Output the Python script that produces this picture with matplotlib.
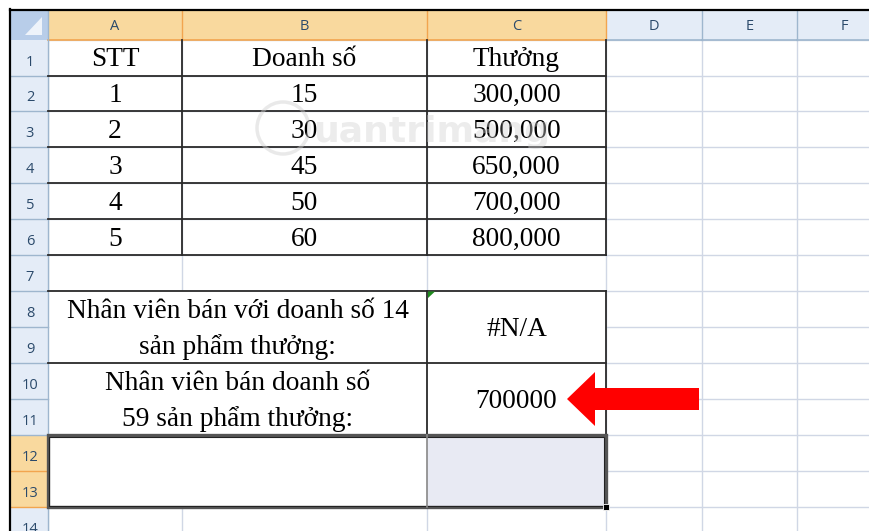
import matplotlib.pyplot as plt
from matplotlib.patches import Rectangle, Circle, FancyArrow, Polygon

# nội dung bảng tính
col_letters = ['A', 'B', 'C', 'D', 'E', 'F']
row_numbers = list(range(1, 15))
headers = ['STT', 'Doanh số', 'Thưởng']
stt = [1, 2, 3, 4, 5]
doanh_so = [15, 30, 45, 50, 60]
thuong = [300000, 500000, 650000, 700000, 800000]
lookup_labels = ['Nhân viên bán với doanh số 14\nsản phẩm thưởng:',
                 'Nhân viên bán doanh số\n59 sản phẩm thưởng:']
lookup_results = ['#N/A', '700000']

# bố cục (pixel)
col_edges = [48, 182, 427, 606, 702, 797, 892]
row_edges = [40, 75.5, 111, 147, 183, 219, 255, 291, 327, 363, 399, 435, 471, 507, 543]
head_top = 11
left = 10

SERIF = ['Liberation Serif', 'DejaVu Serif']
SANS = ['Open Sans', 'DejaVu Sans']
GRID = '#d0d7e5'
BORDER = '#2a2a2a'
FS = 19.7

fig = plt.figure(figsize=(8.7, 5.31), dpi=100)
ax = fig.add_axes([0, 0, 1, 1])
ax.set_xlim(0, 870)
ax.set_ylim(531, 0)
ax.axis('off')

# lưới
for x in col_edges:
    ax.plot([x, x], [row_edges[0], 531], color=GRID, lw=1, zorder=1)
for y in row_edges:
    ax.plot([col_edges[0], 870], [y, y], color=GRID, lw=1, zorder=1)

# ô gộp: che lưới bên trong
for (c0, c1, r0, r1) in [(0, 2, 7, 9), (2, 3, 7, 9), (0, 2, 9, 11), (2, 3, 9, 11), (0, 2, 11, 13)]:
    ax.add_patch(Rectangle((col_edges[c0], row_edges[r0]), col_edges[c1] - col_edges[c0],
                           row_edges[r1] - row_edges[r0], facecolor='white',
                           edgecolor='none', zorder=2))

# tiêu đề cột
for i, letter in enumerate(col_letters):
    x0, x1 = col_edges[i], col_edges[i + 1]
    sel = i < 3
    face = '#f9d99e' if sel else '#e4ecf7'
    edge = '#f2a54f' if sel else '#9eb6ce'
    ax.add_patch(Rectangle((x0, head_top), x1 - x0, row_edges[0] - head_top,
                           facecolor=face, edgecolor='none', zorder=2))
    ax.plot([x1, x1], [head_top, row_edges[0]], color=edge, lw=1, zorder=3)
    ax.plot([x0, x1], [row_edges[0], row_edges[0]], color=edge, lw=1.2, zorder=3)
    ax.text((x0 + x1) / 2, (head_top + row_edges[0]) / 2 + 1.5, letter,
            family=SANS, fontsize=10.5, color='#2b4a6b', ha='center', va='center', zorder=4)

# tiêu đề hàng
for i, num in enumerate(row_numbers):
    y0, y1 = row_edges[i], row_edges[i + 1]
    sel = num in (12, 13)
    face = '#f9d99e' if sel else '#e4ecf7'
    edge = '#f2a54f' if sel else '#9eb6ce'
    ax.add_patch(Rectangle((left + 1, y0), col_edges[0] - left - 1, y1 - y0,
                           facecolor=face, edgecolor='none', zorder=2))
    ax.plot([left + 1, col_edges[0]], [y1, y1], color=edge, lw=1, zorder=3)
    ax.text((left + col_edges[0]) / 2 + 1, (y0 + y1) / 2 + 4.5, str(num),
            family=SANS, fontsize=10.5, color='#2b4a6b', ha='center', va='center', zorder=4)
ax.plot([col_edges[0], col_edges[0]], [head_top, 531], color='#9eb6ce', lw=1, zorder=3)

# ô góc
ax.add_patch(Rectangle((left + 1, head_top), col_edges[0] - left - 1, row_edges[0] - head_top,
                       facecolor='#b8cde9', edgecolor='none', zorder=2))
ax.add_patch(Polygon([[42, 17], [42, 35], [25, 35]], closed=True,
                     facecolor='#eef3fa', edgecolor='none', zorder=3))

# khung ngoài
ax.plot([left, left], [9, 531], color='black', lw=1.6, zorder=6)
ax.plot([left, 870], [9.5, 9.5], color='black', lw=1.6, zorder=6)


def cell_text(ci, ri, s, dy=2):
    x = (col_edges[ci] + col_edges[ci + 1]) / 2
    y = (row_edges[ri] + row_edges[ri + 1]) / 2 + dy
    ax.text(x, y, s, family=SERIF, fontsize=FS, ha='center', va='center',
            color='black', zorder=5)


# bảng dữ liệu
table_rows = [headers] + [[str(a), str(b), f'{c:,}'] for a, b, c in zip(stt, doanh_so, thuong)]
for ri, row in enumerate(table_rows):
    for ci, s in enumerate(row):
        cell_text(ci, ri, s)
for y in row_edges[1:7]:
    ax.plot([col_edges[0], col_edges[3]], [y, y], color=BORDER, lw=1.3, zorder=4)
for x in col_edges[1:4]:
    ax.plot([x, x], [row_edges[0], row_edges[6]], color=BORDER, lw=1.3, zorder=4)

# vùng tra cứu
for k, (label, res) in enumerate(zip(lookup_labels, lookup_results)):
    r0 = 7 + 2 * k
    for j, line in enumerate(label.split('\n')):
        ax.text((col_edges[0] + col_edges[2]) / 2,
                (row_edges[r0 + j] + row_edges[r0 + j + 1]) / 2 + 2,
                line, family=SERIF, fontsize=FS, ha='center', va='center', zorder=5)
    cell_text(2, r0, res, dy=(row_edges[r0 + 2] - row_edges[r0]) / 2 - 18 + 2)
for y in [row_edges[7], row_edges[9], row_edges[11]]:
    ax.plot([col_edges[0], col_edges[3]], [y, y], color=BORDER, lw=1.3, zorder=4)
for x in [col_edges[2], col_edges[3]]:
    ax.plot([x, x], [row_edges[7], row_edges[11]], color=BORDER, lw=1.3, zorder=4)

# tam giác lỗi
ax.add_patch(Polygon([[428, 291.5], [435, 291.5], [428, 298]], closed=True,
                     facecolor='#1e8a1e', edgecolor='none', zorder=6))

# vùng chọn hàng 12-13
ax.add_patch(Rectangle((col_edges[2], row_edges[11]), col_edges[3] - col_edges[2],
                       row_edges[13] - row_edges[11], facecolor='#e8eaf3',
                       edgecolor='none', zorder=3))
ax.add_patch(Rectangle((col_edges[0], row_edges[11]), col_edges[3] - col_edges[0],
                       row_edges[13] - row_edges[11], facecolor='none',
                       edgecolor='#555555', lw=2.4, zorder=5))
ax.add_patch(Rectangle((col_edges[0] + 1.5, row_edges[11] + 1.5), col_edges[3] - col_edges[0] - 3,
                       row_edges[13] - row_edges[11] - 3, facecolor='none',
                       edgecolor='#222222', lw=0.8, zorder=5))
ax.plot([col_edges[2], col_edges[2]], [row_edges[11], row_edges[13]], color='#888888', lw=1.2, zorder=5)
ax.add_patch(Rectangle((col_edges[3] - 3, row_edges[13] - 3), 6, 6,
                       facecolor='black', edgecolor='white', lw=0.6, zorder=6))

# mũi tên đỏ
ax.add_patch(FancyArrow(699, 399, -132, 0, width=22, head_width=54, head_length=28,
                        length_includes_head=True, facecolor='#ff0000',
                        edgecolor='none', zorder=7))

# watermark
ax.add_patch(Circle((283, 128), 26, facecolor='none', edgecolor='#d0d0d0',
                    lw=2.5, alpha=0.45, zorder=8))
ax.text(313, 132, 'uantrimang', family=['DejaVu Sans'], fontweight='bold',
        fontsize=26, color='#d0d0d0', alpha=0.4, ha='left', va='center', zorder=8)

fig.savefig('out.png', dpi=100)
